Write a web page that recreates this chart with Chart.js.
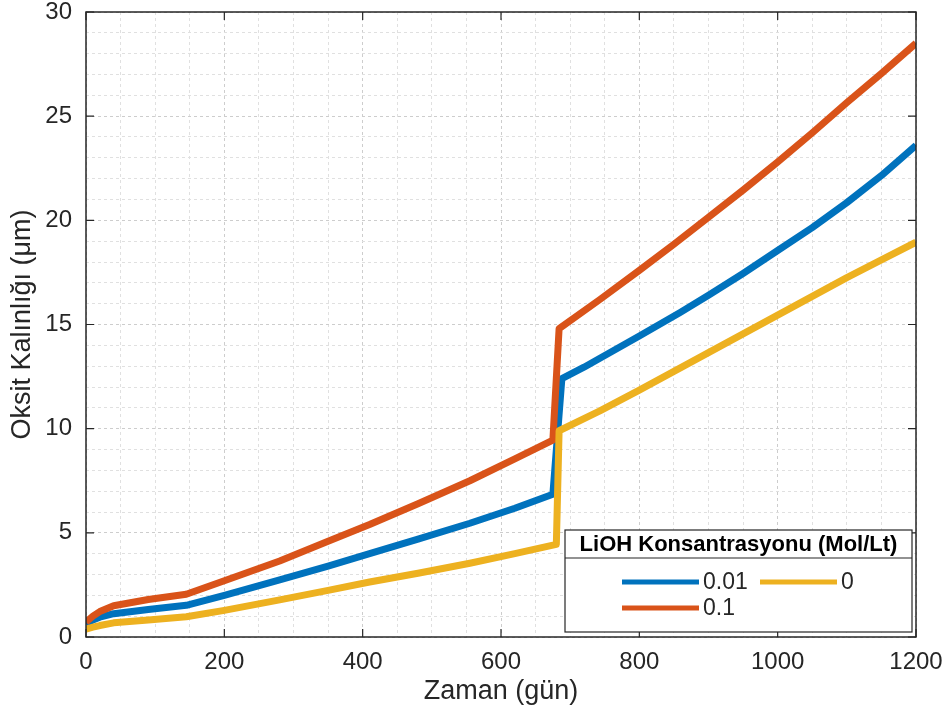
<!DOCTYPE html>
<html>
<head>
<meta charset="utf-8">
<script src="https://cdn.jsdelivr.net/npm/chart.js@4.4.1/dist/chart.umd.min.js"></script>
<style>
  html, body { margin: 0; padding: 0; background: #fff; }
  canvas { display: block; }
</style>
</head>
<body>
<canvas id="oxideChart" width="949" height="722"></canvas>
<script>
/* ================================
   Data
================================ */
const seriesLabels = ["0.01", "0.1", "0"];
const seriesColors = ["#0072BD", "#D95319", "#EDB120"];

// 0.01 Mol/Lt
const days001 = [0, 10, 20, 40, 90, 145, 200, 280, 350, 410, 480, 555, 620, 675, 688, 720, 743, 800, 859, 900, 950, 1000, 1050, 1100, 1150, 1200];
const oxide001 = [0.62, 0.82, 0.95, 1.12, 1.32, 1.52, 2.0, 2.74, 3.4, 4.0, 4.7, 5.46, 6.18, 6.85, 12.4, 12.95, 13.38, 14.45, 15.58, 16.4, 17.45, 18.55, 19.65, 20.85, 22.15, 23.6];

// 0.1 Mol/Lt
const days01 = [0, 10, 20, 40, 90, 145, 200, 280, 350, 410, 480, 555, 620, 675, 684, 743, 800, 850, 900, 950, 1000, 1050, 1100, 1150, 1200];
const oxide01 = [0.72, 1.0, 1.22, 1.5, 1.8, 2.05, 2.7, 3.65, 4.6, 5.4, 6.4, 7.5, 8.55, 9.45, 14.8, 16.2, 17.6, 18.85, 20.15, 21.45, 22.8, 24.2, 25.65, 27.05, 28.5];

// 0 Mol/Lt
const days0 = [0, 10, 20, 40, 90, 145, 200, 280, 350, 410, 480, 555, 620, 680, 684, 743, 800, 850, 900, 950, 1000, 1050, 1100, 1150, 1200];
const oxide0 = [0.38, 0.47, 0.55, 0.68, 0.82, 0.97, 1.28, 1.78, 2.24, 2.64, 3.06, 3.54, 4.0, 4.45, 9.9, 10.85, 11.85, 12.75, 13.65, 14.55, 15.45, 16.35, 17.25, 18.1, 18.95];

const xMajorTicks = [0, 200, 400, 600, 800, 1000, 1200];
const yMajorTicks = [0, 5, 10, 15, 20, 25, 30];

/* ================================
   Helpers
================================ */
const FONT = "'Liberation Sans', Arial, Helvetica, sans-serif";
const AXIS_COLOR = "#262626";

function toPoints(xs, ys) {
  return xs.map((x, i) => ({ x, y: ys[i] }));
}

function gridColor(majors) {
  return ctx => majors.includes(ctx.tick.value) ? "#cdcdcd" : "#e0e0e0";
}

/* ================================
   Axes box + inward ticks
================================ */
const axesBox = {
  id: "axesBox",
  afterDatasetsDraw(chart) {
    const { ctx, chartArea: a, scales } = chart;
    const len = 8;
    ctx.save();
    ctx.strokeStyle = AXIS_COLOR;
    ctx.lineWidth = 1.5;
    ctx.strokeRect(a.left, a.top, a.right - a.left, a.bottom - a.top);

    ctx.lineWidth = 1.2;
    ctx.beginPath();
    xMajorTicks.forEach(v => {
      const px = scales.x.getPixelForValue(v);
      ctx.moveTo(px, a.bottom); ctx.lineTo(px, a.bottom - len);
      ctx.moveTo(px, a.top); ctx.lineTo(px, a.top + len);
    });
    yMajorTicks.forEach(v => {
      const py = scales.y.getPixelForValue(v);
      ctx.moveTo(a.left, py); ctx.lineTo(a.left + len, py);
      ctx.moveTo(a.right, py); ctx.lineTo(a.right - len, py);
    });
    ctx.stroke();
    ctx.restore();
  }
};

/* ================================
   Legend box (two columns, title row)
================================ */
const boxLegend = {
  id: "boxLegend",
  afterDraw(chart) {
    const { ctx, chartArea: a } = chart;
    const w = 347, h = 102;
    const x0 = a.right - 351, y0 = a.bottom - 107;

    ctx.save();
    ctx.fillStyle = "#fff";
    ctx.fillRect(x0, y0, w, h);
    ctx.strokeStyle = AXIS_COLOR;
    ctx.lineWidth = 1.2;
    ctx.strokeRect(x0, y0, w, h);
    ctx.beginPath();
    ctx.moveTo(x0, y0 + 28);
    ctx.lineTo(x0 + w, y0 + 28);
    ctx.stroke();

    ctx.fillStyle = "#000";
    ctx.font = `bold 22px ${FONT}`;
    ctx.textAlign = "center";
    ctx.textBaseline = "middle";
    ctx.fillText("LiOH Konsantrasyonu (Mol/Lt)", x0 + w / 2, y0 + 15);

    // items fill columns first
    const slots = [
      { col: 0, row: 0 },
      { col: 0, row: 1 },
      { col: 1, row: 0 }
    ];
    const colX = [x0 + 57, x0 + 195];
    const rowY = [y0 + 52, y0 + 78];

    ctx.font = `23px ${FONT}`;
    ctx.textAlign = "left";
    chart.data.datasets.forEach((ds, i) => {
      const s = slots[i];
      const lx = colX[s.col], ly = rowY[s.row];
      ctx.strokeStyle = ds.borderColor;
      ctx.lineWidth = 5;
      ctx.beginPath();
      ctx.moveTo(lx, ly);
      ctx.lineTo(lx + 77, ly);
      ctx.stroke();
      ctx.fillStyle = AXIS_COLOR;
      ctx.fillText(ds.label, lx + 81, ly + 1);
    });
    ctx.restore();
  }
};

/* ================================
   Chart
================================ */
const dataSets = [
  [days001, oxide001],
  [days01, oxide01],
  [days0, oxide0]
].map(([xs, ys], i) => ({
  label: seriesLabels[i],
  data: toPoints(xs, ys),
  borderColor: seriesColors[i],
  backgroundColor: seriesColors[i],
  borderWidth: 7,
  pointRadius: 0,
  tension: 0,
  fill: false,
  borderJoinStyle: "round",
  order: 3 - i
}));

new Chart(document.getElementById("oxideChart"), {
  type: "line",
  data: { datasets: dataSets },
  options: {
    responsive: false,
    animation: false,
    layout: { padding: { top: 12, right: 33, left: 0, bottom: 0 } },
    plugins: {
      legend: { display: false },
      tooltip: { enabled: false }
    },
    scales: {
      x: {
        type: "linear",
        min: 0,
        max: 1200,
        afterFit: scale => {
          scale.height = 85;
          scale.paddingLeft = 0;
          scale.paddingRight = 0;
        },
        border: { display: false, dash: [3, 3] },
        grid: { color: gridColor(xMajorTicks), lineWidth: 1, drawTicks: false },
        ticks: {
          stepSize: 50,
          autoSkip: false,
          maxRotation: 0,
          padding: 11,
          color: AXIS_COLOR,
          font: { family: FONT, size: 24 },
          callback: v => xMajorTicks.includes(v) ? String(v) : ""
        },
        title: {
          display: true,
          text: "Zaman (gün)",
          color: AXIS_COLOR,
          font: { family: FONT, size: 27 },
          padding: { top: 0, bottom: 14 }
        }
      },
      y: {
        type: "linear",
        min: 0,
        max: 30,
        afterFit: scale => {
          scale.width = 86;
          scale.paddingTop = 0;
          scale.paddingBottom = 0;
        },
        border: { display: false, dash: [3, 3] },
        grid: { color: gridColor(yMajorTicks), lineWidth: 1, drawTicks: false },
        ticks: {
          stepSize: 1,
          autoSkip: false,
          padding: 14,
          color: AXIS_COLOR,
          font: { family: FONT, size: 24 },
          callback: v => yMajorTicks.includes(v) ? String(v) : ""
        },
        title: {
          display: true,
          text: "Oksit Kalınlığı (μm)",
          color: AXIS_COLOR,
          font: { family: FONT, size: 27 },
          padding: { top: 6, bottom: 0 }
        }
      }
    }
  },
  plugins: [axesBox, boxLegend]
});
</script>
</body>
</html>
